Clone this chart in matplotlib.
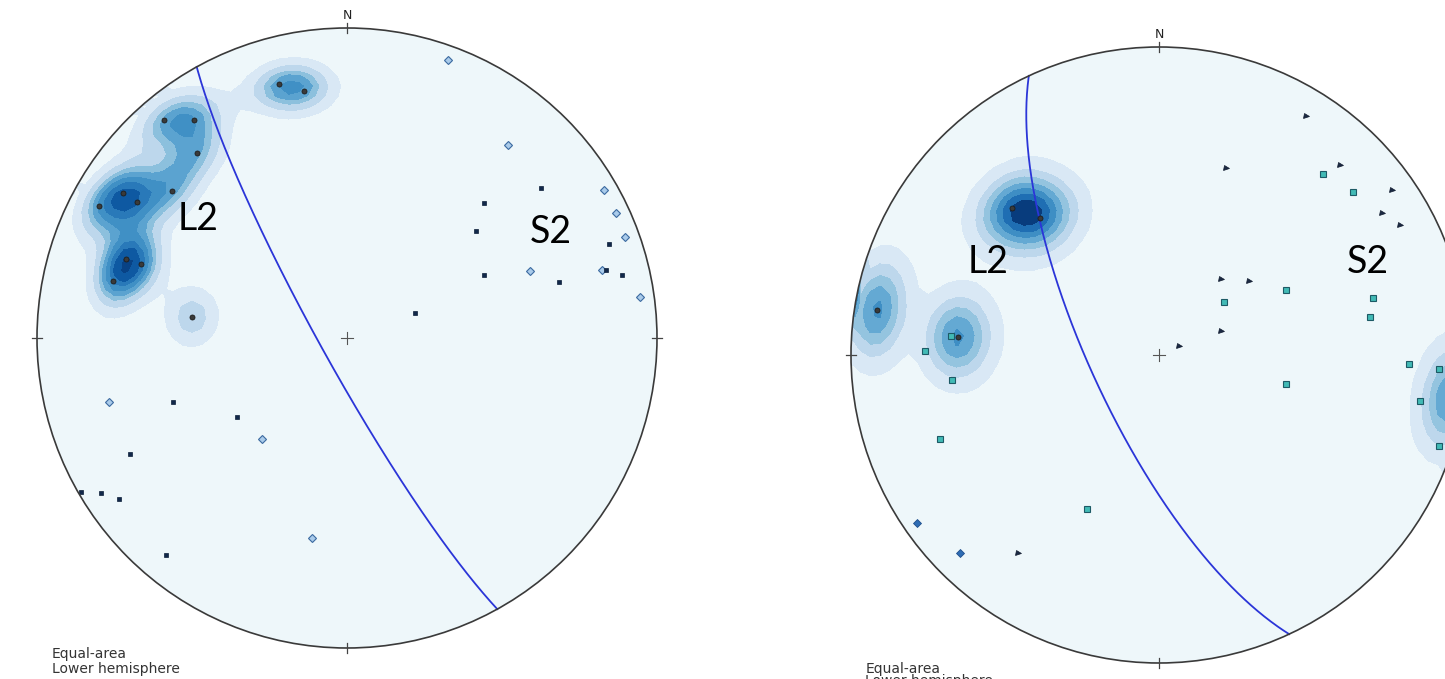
"""Two equal-area stereonets: L2 lineation density with S2 data and a great circle"""

import numpy as np
import matplotlib.pyplot as plt
from matplotlib.patches import Circle

# ---- left net ----
LEFT_L2_X = [-0.219, -0.139, -0.590, -0.494, -0.484, -0.565, -0.723, -0.677, -0.800, -0.713, -0.665, -0.755, -0.500]
LEFT_L2_Y = [0.819, 0.797, 0.703, 0.703, 0.597, 0.474, 0.468, 0.439, 0.426, 0.255, 0.239, 0.184, 0.068]

LEFT_DIAMOND_X = [0.326, 0.519, 0.829, 0.868, 0.897, 0.590, 0.823, 0.945, -0.768, -0.274, -0.113]
LEFT_DIAMOND_Y = [0.897, 0.623, 0.477, 0.403, 0.326, 0.216, 0.219, 0.132, -0.206, -0.326, -0.645]

LEFT_SQUARE_X = [0.626, 0.442, 0.416, 0.845, 0.442, 0.684, 0.835, 0.887, 0.219,
                 -0.561, -0.355, -0.700, -0.858, -0.794, -0.735, -0.584]
LEFT_SQUARE_Y = [0.484, 0.435, 0.345, 0.303, 0.203, 0.181, 0.219, 0.203, 0.081,
                 -0.206, -0.255, -0.374, -0.497, -0.500, -0.519, -0.700]

LEFT_PLANE = (151, 83)   # strike, dip

# ---- right net ----
RIGHT_L2_X = [-0.477, -0.386, -0.916, -0.653, 0.945]
RIGHT_L2_Y = [0.477, 0.445, 0.146, 0.058, -0.140]

RIGHT_TRIANGLE_X = [0.477, 0.218, 0.588, 0.756, 0.724, 0.782, 0.201, 0.292, 0.201, 0.065, -0.458]
RIGHT_TRIANGLE_Y = [0.776, 0.607, 0.617, 0.536, 0.461, 0.422, 0.247, 0.240, 0.078, 0.029, -0.643]

RIGHT_SQUARE_X = [0.532, 0.630, 0.412, 0.211, 0.695, 0.685, 0.812, 0.909, 0.847, 0.909, 0.412,
                  -0.675, -0.760, -0.672, -0.711, -0.234]
RIGHT_SQUARE_Y = [0.588, 0.529, 0.211, 0.172, 0.185, 0.123, -0.029, -0.045, -0.149, -0.295, -0.094,
                  0.062, 0.013, -0.081, -0.273, -0.500]

RIGHT_DIAMOND_X = [-0.786, -0.646]
RIGHT_DIAMOND_Y = [-0.545, -0.643]

RIGHT_PLANE = (155, 72)

BG = '#eef7fa'


def net_vectors(x, y):
    """Equal-area (lower hemisphere) net position -> unit vector (east, north, up)"""
    x = np.asarray(x, float)
    y = np.asarray(y, float)
    rho2 = np.clip(x**2 + y**2, 0, 1)
    s = np.sqrt(2 - rho2)
    return np.stack([x * s, y * s, -(1 - rho2)], axis=-1)


def great_circle(strike, dip, num=400):
    st = np.radians(strike)
    dd = st + np.pi / 2
    dp = np.radians(dip)
    s_vec = np.array([np.sin(st), np.cos(st), 0.0])
    d_vec = np.array([np.sin(dd) * np.cos(dp), np.cos(dd) * np.cos(dp), -np.sin(dp)])
    a = np.linspace(0, np.pi, num)
    v = np.outer(np.cos(a), s_vec) + np.outer(np.sin(a), d_vec)
    w = -v[:, 2]
    return v[:, 0] / np.sqrt(1 + w), v[:, 1] / np.sqrt(1 + w)


def density_grid(px, py, k, n=65):
    g = np.linspace(-1, 1, n)
    gx, gy = np.meshgrid(g, g)
    grid = net_vectors(gx.ravel(), gy.ravel())
    data = net_vectors(px, py)
    cos_d = grid @ data.T
    dens = np.exp(k * (cos_d - 1)).sum(axis=1).reshape(gx.shape)
    return gx, gy, dens


def draw_net(ax, l2_x, l2_y, k, levels, shades, plane, foot_gap=0.049):
    ax.set_xlim(-1, 1)
    ax.set_ylim(-1, 1)
    ax.set_aspect('equal')
    ax.axis('off')

    rim = Circle((0, 0), 1, facecolor=BG, edgecolor='none', zorder=0)
    ax.add_patch(rim)

    # Density of L2
    gx, gy, dens = density_grid(l2_x, l2_y, k)
    colors = [BG] + list(plt.cm.Blues(shades))
    cs = ax.contourf(gx, gy, dens, levels=levels, colors=colors, zorder=1)
    cs.set_clip_path(rim)

    # Primitive circle, ticks and centre cross
    ax.add_patch(Circle((0, 0), 1, facecolor='none', edgecolor='#3a3a3a', lw=1.2, zorder=5, clip_on=False))
    t = 0.017
    for x0, y0, dx, dy in [(0, 1, 0, t), (0, -1, 0, t), (1, 0, t, 0), (-1, 0, t, 0)]:
        ax.plot([x0 - dx, x0 + dx], [y0 - dy, y0 + dy], color='#444444', lw=0.9, zorder=5, clip_on=False)
    ax.plot([-0.02, 0.02], [0, 0], color='#555555', lw=0.8, zorder=5)
    ax.plot([0, 0], [-0.02, 0.02], color='#555555', lw=0.8, zorder=5)
    ax.text(0, 1.028, 'N', ha='center', va='baseline', fontsize=9, color='#222222')

    # Plane
    gcx, gcy = great_circle(*plane)
    ax.plot(gcx, gcy, color='#2b35d8', lw=1.3, zorder=3)

    # L2 points
    ax.plot(l2_x, l2_y, 'o', ms=3.6, mfc='#3a3a3a', mec='#1e1e1e', mew=0.6, zorder=4)

    ax.text(-0.953, -1.031, 'Equal-area', fontsize=10, color='#333333', va='baseline', clip_on=False)
    ax.text(-0.953, -1.031 - foot_gap, 'Lower hemisphere', fontsize=10, color='#333333', va='baseline',
            clip_on=False)


fig = plt.figure(figsize=(14.45, 6.79), dpi=100)
W, H = 1445.0, 679.0

# Left net: centre (347, 338) px, radius 310 px
ax1 = fig.add_axes([(347 - 310) / W, (H - 338 - 310) / H, 620 / W, 620 / H])
draw_net(ax1, LEFT_L2_X, LEFT_L2_Y, k=110,
         levels=[0, 0.41, 0.78, 1.1, 1.32, 1.55, 1.8, 2.02, 2.3, 50],
         shades=[0.15, 0.28, 0.42, 0.55, 0.63, 0.72, 0.84, 0.93], plane=LEFT_PLANE)
ax1.plot(LEFT_DIAMOND_X, LEFT_DIAMOND_Y, 'D', ms=3.8, mfc='#a9cbea', mec='#3b6aa0', mew=0.8, zorder=4)
ax1.plot(LEFT_SQUARE_X, LEFT_SQUARE_Y, 's', ms=3.5, mfc='#11284a', mec='#0b1d38', mew=0.5, zorder=4)
ax1.text(-0.481, 0.348, 'L2', fontsize=27, family='Lato', ha='center', va='baseline', zorder=6)
ax1.text(0.658, 0.306, 'S2', fontsize=27, family='Lato', ha='center', va='baseline', zorder=6)

# Right net: centre (1159, 355) px, radius 308 px (cut at the right edge)
ax2 = fig.add_axes([(1159 - 308) / W, (H - 355 - 308) / H, 616 / W, 616 / H])
draw_net(ax2, RIGHT_L2_X, RIGHT_L2_Y, k=89,
         levels=[0, 0.1, 0.31, 0.52, 0.73, 0.94, 1.15, 1.36, 50],
         shades=[0.15, 0.28, 0.4, 0.52, 0.64, 0.76, 0.95], plane=RIGHT_PLANE, foot_gap=0.041)
ax2.plot(RIGHT_TRIANGLE_X, RIGHT_TRIANGLE_Y, '>', ms=3.6, mfc='#1b2a44', mec='#111b2e', mew=0.5, zorder=4)
ax2.plot(RIGHT_SQUARE_X, RIGHT_SQUARE_Y, 's', ms=4.0, mfc='#41bab5', mec='#1d5a66', mew=0.8, zorder=4)
ax2.plot(RIGHT_DIAMOND_X, RIGHT_DIAMOND_Y, 'D', ms=4.0, mfc='#2f6db4', mec='#1f4f8c', mew=0.6, zorder=4)
ax2.text(-0.555, 0.266, 'L2', fontsize=27, family='Lato', ha='center', va='baseline', zorder=6)
ax2.text(0.679, 0.266, 'S2', fontsize=27, family='Lato', ha='center', va='baseline', zorder=6)

plt.savefig('out.png', dpi=100)
